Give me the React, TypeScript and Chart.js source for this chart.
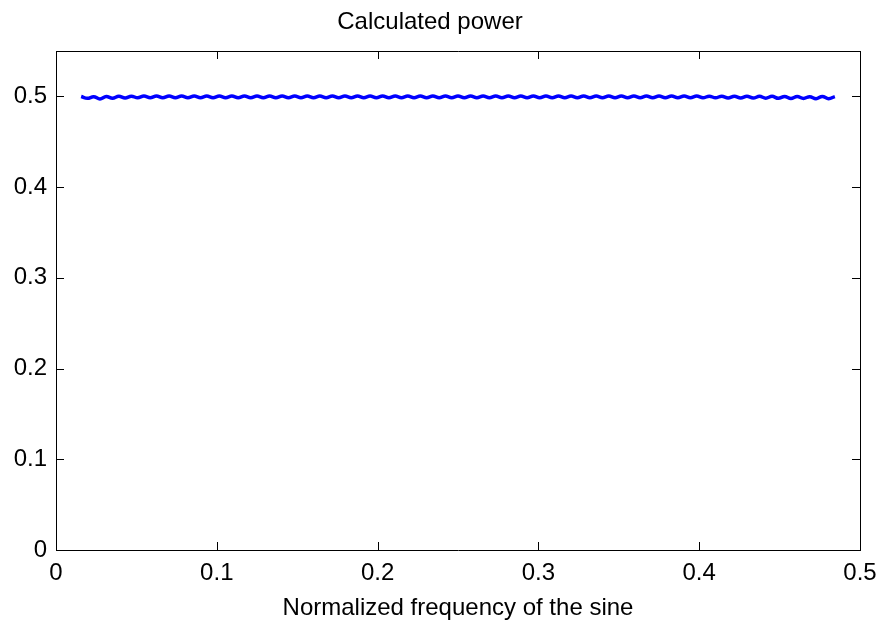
import React, { useEffect, useRef } from "react";
import { Chart, registerables } from "chart.js";

Chart.register(...registerables);

const titleText = "Calculated power";
const xAxisLabel = "Normalized frequency of the sine";
const xTicks = [0, 0.1, 0.2, 0.3, 0.4, 0.5];
const yTicks = [0, 0.1, 0.2, 0.3, 0.4, 0.5];

// frequencies: k/256 for k = 4..124
const freqStartIndex = 4;
const freqDenominator = 256;

const power = [
  0.4998, 0.4978, 0.4996, 0.4972, 0.4999, 0.4979, 0.5001, 0.4982, 0.5002, 0.4984,
  0.5003, 0.4985, 0.5003, 0.4984, 0.5004, 0.4986, 0.5003, 0.4985, 0.5004, 0.4986,
  0.5003, 0.4985, 0.5003, 0.4986, 0.5004, 0.4985, 0.5003, 0.4986, 0.5004, 0.4986,
  0.5003, 0.4985, 0.5004, 0.4986, 0.5003, 0.4986, 0.5004, 0.4985, 0.5003, 0.4986,
  0.5004, 0.4986, 0.5003, 0.4985, 0.5004, 0.4986, 0.5003, 0.4986, 0.5004, 0.4985,
  0.5003, 0.4986, 0.5004, 0.4986, 0.5003, 0.4985, 0.5004, 0.4986, 0.5003, 0.4986,
  0.5004, 0.4985, 0.5003, 0.4986, 0.5004, 0.4986, 0.5003, 0.4985, 0.5004, 0.4986,
  0.5003, 0.4986, 0.5004, 0.4985, 0.5003, 0.4986, 0.5004, 0.4986, 0.5003, 0.4985,
  0.5004, 0.4986, 0.5003, 0.4986, 0.5004, 0.4985, 0.5003, 0.4986, 0.5004, 0.4986,
  0.5003, 0.4985, 0.5004, 0.4986, 0.5003, 0.4985, 0.5003, 0.4985, 0.5003, 0.4984,
  0.5002, 0.4984, 0.5002, 0.4983, 0.5002, 0.4982, 0.5001, 0.4981, 0.5000, 0.4980,
  0.5000, 0.4978, 0.4999, 0.4976, 0.4998, 0.4977, 0.4997, 0.4974, 0.4999, 0.4975,
  0.4998,
];

const FONT = "'Liberation Sans', Arial, Helvetica, sans-serif";

const boxPlugin = {
  id: "boxPlugin",
  afterDatasetsDraw(chart: any) {
    const { ctx, chartArea } = chart;
    const { left, right, top, bottom } = chartArea;
    const xs = chart.scales.x;
    const ys = chart.scales.y;
    const tl = 8;
    ctx.save();
    ctx.strokeStyle = "#000";
    ctx.lineWidth = 1;
    ctx.beginPath();
    ctx.moveTo(left, top + 0.5);
    ctx.lineTo(right + 0.5, top + 0.5);
    ctx.lineTo(right + 0.5, bottom);
    for (const t of xs.ticks) {
      const px = Math.round(xs.getPixelForValue(t.value)) + 0.5;
      ctx.moveTo(px, bottom);
      ctx.lineTo(px, bottom - tl);
      ctx.moveTo(px, top);
      ctx.lineTo(px, top + tl);
    }
    for (const t of ys.ticks) {
      const py = Math.round(ys.getPixelForValue(t.value)) + 0.5;
      ctx.moveTo(left, py);
      ctx.lineTo(left + tl, py);
      ctx.moveTo(right, py);
      ctx.lineTo(right - tl, py);
    }
    ctx.stroke();
    ctx.restore();
  },
};

export default function App() {
  const ref = useRef<HTMLCanvasElement | null>(null);
  useEffect(() => {
    document.body.style.margin = "0";
    const canvas = ref.current;
    if (!canvas) return;
    const data = power.map((v, i) => ({
      x: (freqStartIndex + i) / freqDenominator,
      y: v,
    }));
    const chart = new Chart(canvas, {
      type: "line",
      data: {
        datasets: [
          {
            data,
            borderColor: "#0000ff",
            borderWidth: 3.5,
            pointRadius: 0,
            tension: 0.4,
            fill: false,
          },
        ],
      },
      plugins: [boxPlugin],
      options: {
        animation: false,
        responsive: false,
        layout: { padding: { left: 0, right: 21, top: 0, bottom: 0 } },
        plugins: {
          legend: { display: false },
          tooltip: { enabled: false },
          title: {
            display: true,
            text: titleText,
            color: "#000",
            font: { family: FONT, size: 24, weight: "normal", lineHeight: 1.2 },
            padding: { top: 8, bottom: 14.2 },
          },
        },
        scales: {
          x: {
            type: "linear",
            min: 0,
            max: 0.5,
            afterBuildTicks: (s: any) => {
              s.ticks = xTicks.map((v) => ({ value: v }));
            },
            afterFit: (s: any) => {
              s.height = 73;
              s.paddingLeft = 0;
              s.paddingRight = 0;
            },
            grid: { display: false, drawTicks: false },
            border: { display: true, color: "#000", width: 1 },
            ticks: {
              color: "#000",
              padding: 9,
              font: { family: FONT, size: 24 },
              callback: (v: any) => String(Math.round(Number(v) * 10) / 10),
            },
            title: {
              display: true,
              text: xAxisLabel,
              color: "#000",
              font: { family: FONT, size: 24 },
              padding: { top: 0, bottom: 0 },
            },
          },
          y: {
            type: "linear",
            min: 0,
            max: 0.55,
            afterBuildTicks: (s: any) => {
              s.ticks = yTicks.map((v) => ({ value: v }));
            },
            afterFit: (s: any) => {
              s.width = 56;
              s.paddingTop = 0;
              s.paddingBottom = 0;
            },
            grid: { display: false, drawTicks: false },
            border: { display: true, color: "#000", width: 1 },
            ticks: {
              color: "#000",
              padding: 9,
              font: { family: FONT, size: 24 },
              callback: (v: any) => String(Math.round(Number(v) * 10) / 10),
            },
          },
        },
      },
    });
    return () => chart.destroy();
  }, []);
  return (
    <div style={{ width: 881, height: 623, background: "#fff" }}>
      <canvas ref={ref} width={881} height={623} />
    </div>
  );
}
